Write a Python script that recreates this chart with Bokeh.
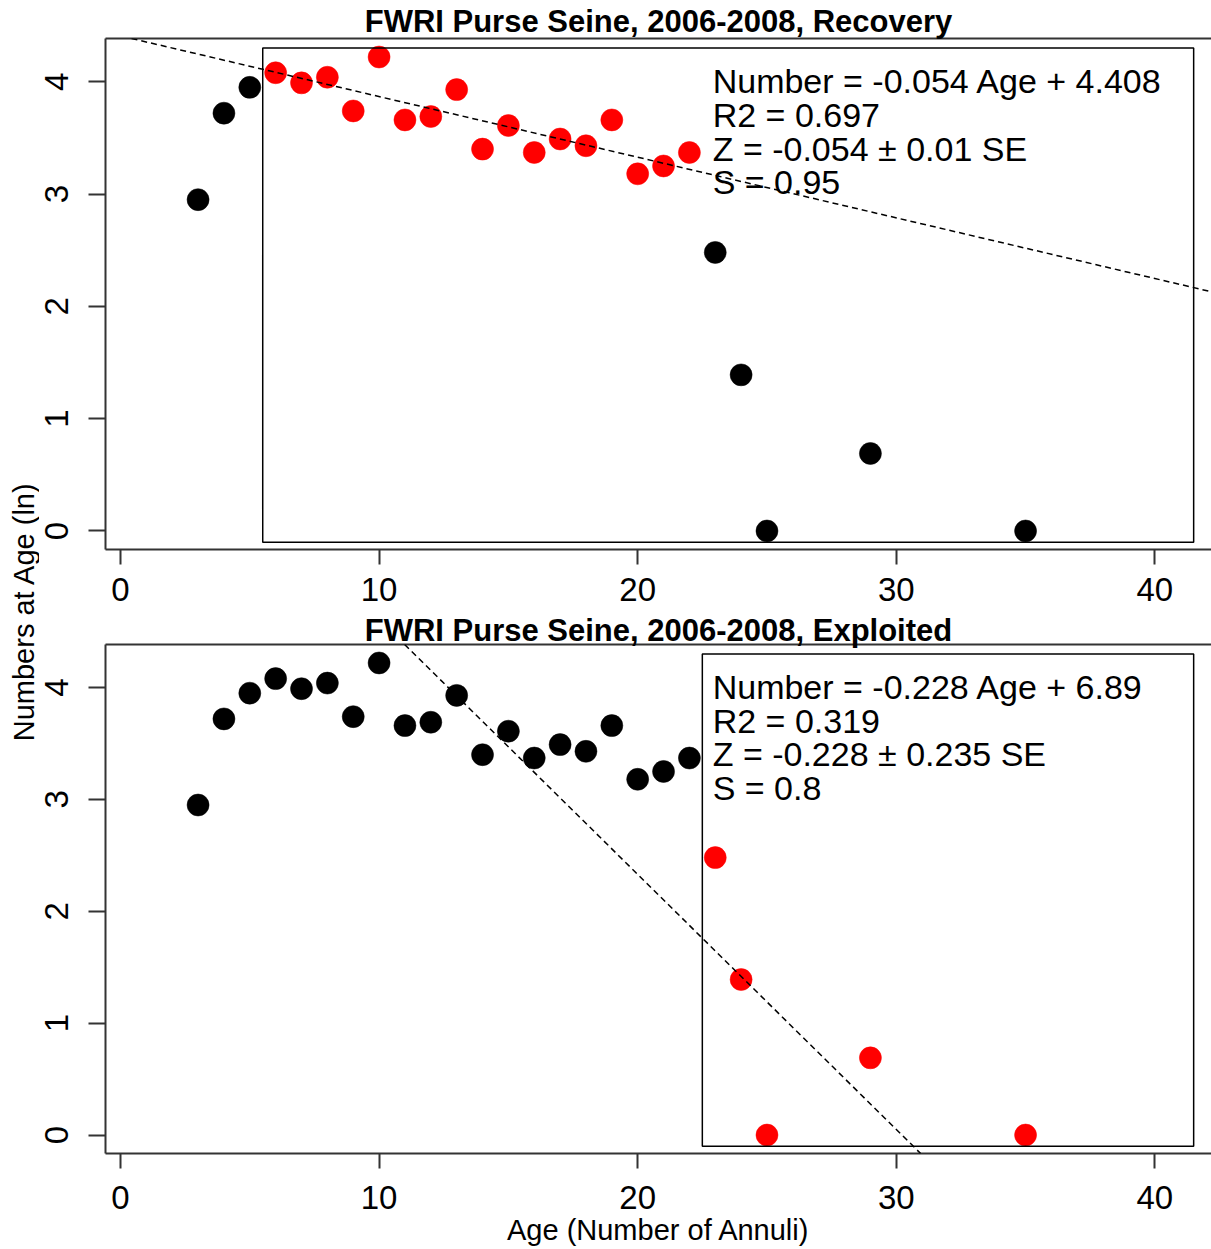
import math
from bokeh.plotting import figure
from bokeh.models import Range1d, Label, Slope, LinearAxis, FixedTicker, ColumnDataSource
from bokeh.layouts import row, column
from bokeh.embed import file_html
from bokeh.resources import INLINE

# ---- data ----
ages = [3, 4, 5, 6, 7, 8, 9, 10, 11, 12, 13, 14, 15, 16, 17, 18, 19, 20, 21, 22, 23, 24, 25, 29, 35]
ln_numbers = [2.95, 3.72, 3.95, 4.08, 3.99, 4.04, 3.74, 4.22, 3.66, 3.69, 3.93, 3.40, 3.61,
              3.37, 3.49, 3.43, 3.66, 3.18, 3.25, 3.37, 2.48, 1.39, 0.0, 0.69, 0.0]

recovery_title = "FWRI Purse Seine, 2006-2008, Recovery"
recovery_ages = (6, 22)
recovery_slope = -0.054
recovery_intercept = 4.408
recovery_stats = ["Number = -0.054 Age + 4.408", "R2 = 0.697", "Z = -0.054 \u00b1 0.01 SE", "S = 0.95"]
recovery_box = (5.5, 41.5, -0.1, 4.3)

exploited_title = "FWRI Purse Seine, 2006-2008, Exploited"
exploited_ages = (23, 35)
exploited_slope = -0.228
exploited_intercept = 6.89
exploited_stats = ["Number = -0.228 Age + 6.89", "R2 = 0.319", "Z = -0.228 \u00b1 0.235 SE", "S = 0.8"]
exploited_box = (22.5, 41.5, -0.1, 4.3)

x_ticks = [0, 10, 20, 30, 40]
y_ticks = [0, 1, 2, 3, 4]
x_label = "Age (Number of Annuli)"
y_label = "Numbers at Age (ln)"

FONT = "Liberation Sans"
AX = "#333333"
LABEL_W = 39
MAIN_W = 1211 - LABEL_W
TICK_FS = "33px"


def style_axis(ax, tick_out, standoff):
    ax.axis_line_color = AX
    ax.axis_line_width = 2
    ax.major_tick_line_color = AX
    ax.major_tick_line_width = 2
    ax.major_tick_in = 0
    ax.major_tick_out = tick_out
    ax.minor_tick_line_color = None
    ax.major_label_text_font = FONT
    ax.major_label_text_font_size = TICK_FS
    ax.major_label_text_color = "black"
    ax.major_label_standoff = standoff


def make_panel(title, title_standoff, red_range, slope, intercept, stats, box, height, b_top, b_bottom,
               x_standoff, below_label, below_label_standoff):
    p = figure(width=MAIN_W, height=height, output_backend="svg", toolbar_location=None,
               x_range=Range1d(-0.58, 42.19), y_range=Range1d(-0.165, 4.385),
               x_axis_type=None, y_axis_type=None,
               min_border_left=66, min_border_right=0, min_border_top=b_top, min_border_bottom=b_bottom)
    p.outline_line_color = None
    p.background_fill_color = "white"
    p.border_fill_color = "white"

    xa = LinearAxis(ticker=FixedTicker(ticks=x_ticks))
    style_axis(xa, 15, x_standoff)
    if below_label:
        xa.axis_label = below_label
        xa.axis_label_text_font = FONT
        xa.axis_label_text_font_size = "29px"
        xa.axis_label_text_font_style = "normal"
        xa.axis_label_text_color = "black"
        xa.axis_label_standoff = below_label_standoff
    p.add_layout(xa, "below")

    ya = LinearAxis(ticker=FixedTicker(ticks=y_ticks))
    style_axis(ya, 17, 20)
    ya.major_label_orientation = "vertical"
    p.add_layout(ya, "left")

    # top frame line carrying the panel heading
    ta = LinearAxis(ticker=FixedTicker(ticks=[]))
    ta.axis_line_color = AX
    ta.axis_line_width = 2
    ta.major_tick_line_color = None
    ta.minor_tick_line_color = None
    ta.major_label_text_font_size = "0px"
    ta.major_tick_out = 0
    ta.major_label_standoff = 0
    ta.axis_label = title
    ta.axis_label_text_font = FONT
    ta.axis_label_text_font_size = "31px"
    ta.axis_label_text_font_style = "bold"
    ta.axis_label_text_color = "black"
    ta.axis_label_standoff = title_standoff
    p.add_layout(ta, "above")

    colors = ["#FF0000" if red_range[0] <= a <= red_range[1] else "black" for a in ages]
    src = ColumnDataSource(dict(x=ages, y=ln_numbers, c=colors))
    p.scatter("x", "y", source=src, size=22, fill_color="c", line_color="c", line_width=0.5)

    p.quad(left=[box[0]], right=[box[1]], bottom=[box[2]], top=[box[3]],
           fill_color=None, line_color="black", line_width=1.5)

    p.add_layout(Slope(gradient=slope, y_intercept=intercept, line_color="black",
                       line_dash="6 4", line_width=1.5))

    for i, s in enumerate(stats):
        p.add_layout(Label(x=22.9, y=4.005 - i * 0.3, text=s, text_font=FONT, text_font_size="34px",
                           text_color="black", text_baseline="alphabetic", text_align="left"))
    return p


top = make_panel(recovery_title, 0, recovery_ages, recovery_slope, recovery_intercept,
                 recovery_stats, recovery_box, 609, 38, 60, 13, None, 0)
bottom = make_panel(exploited_title, -3, exploited_ages, exploited_slope, exploited_intercept,
                    exploited_stats, exploited_box, 640, 33, 96, 17, x_label, 2)

lab = figure(width=LABEL_W, height=1249, output_backend="svg", toolbar_location=None,
             x_range=Range1d(0, LABEL_W), y_range=Range1d(0, 1249),
             x_axis_type=None, y_axis_type=None,
             min_border_left=0, min_border_right=0, min_border_top=0, min_border_bottom=0)
lab.outline_line_color = None
lab.add_layout(Label(x=23, y=638, text=y_label, angle=math.pi / 2, text_font=FONT,
                     text_font_size="29px", text_color="black", text_align="center",
                     text_baseline="alphabetic"))

layout = row(lab, column(top, bottom))
open("out.html", "w").write(file_html(layout, INLINE))
